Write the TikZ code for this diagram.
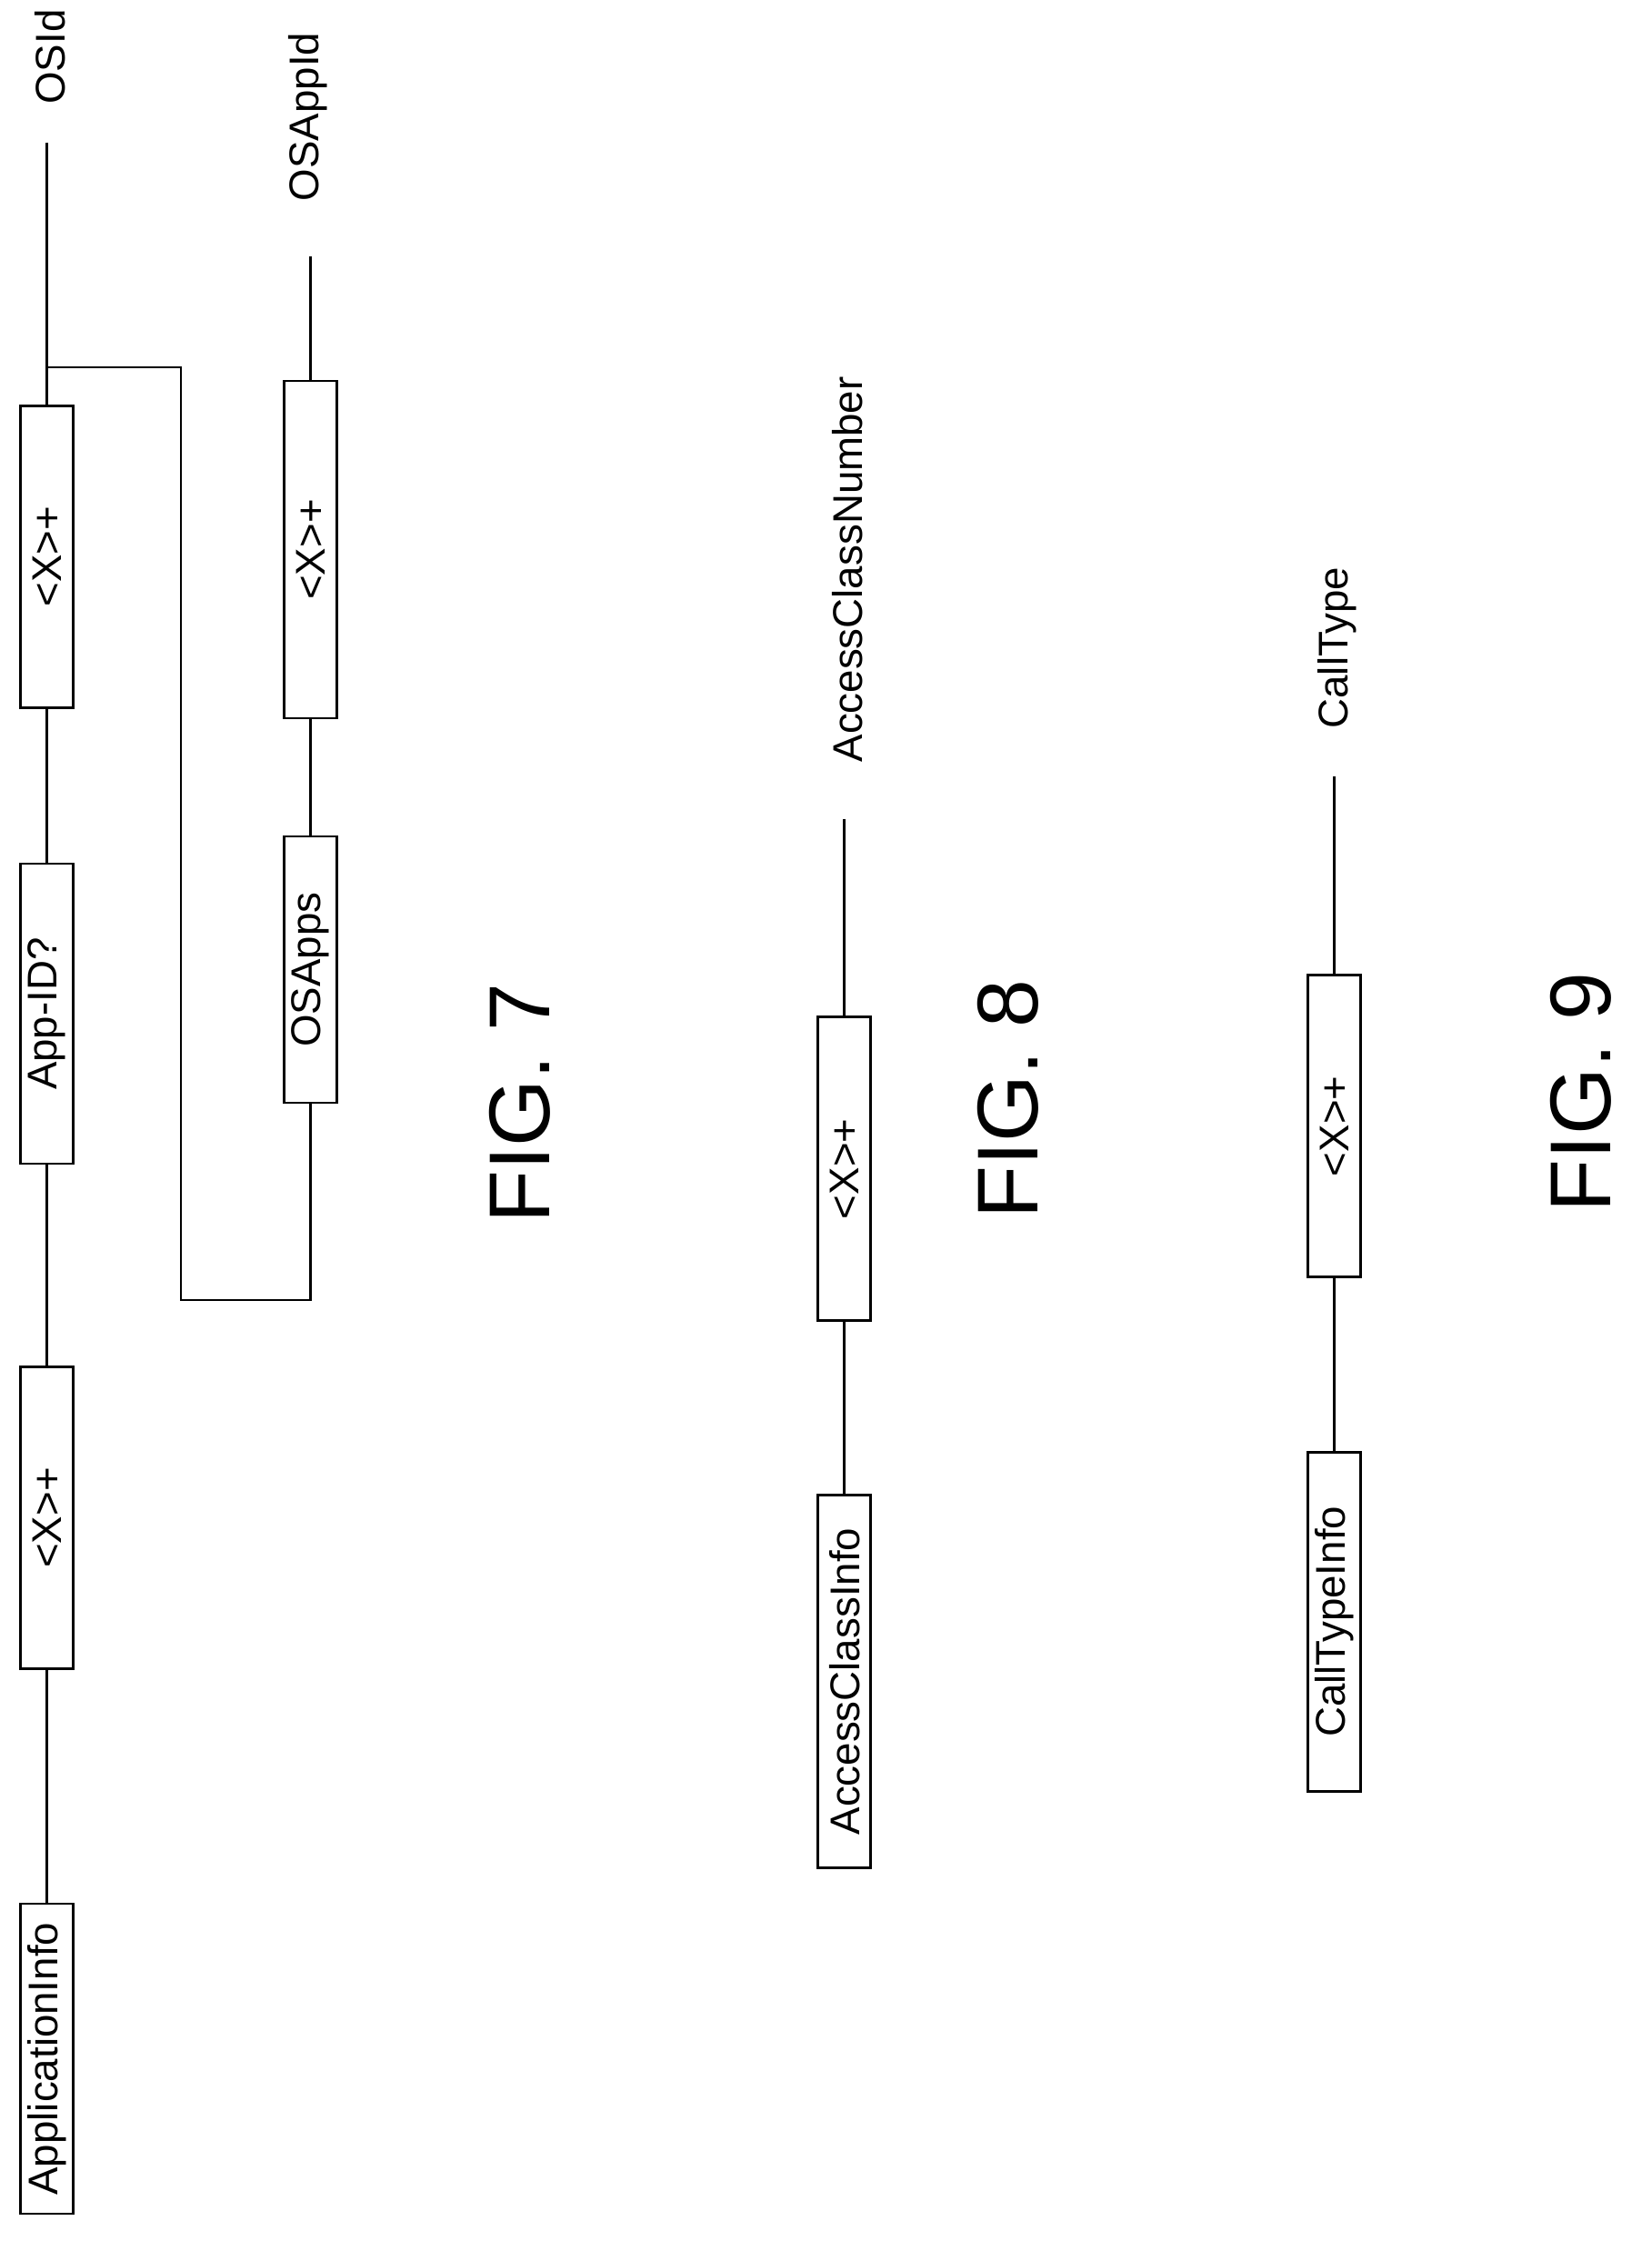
\documentclass[tikz,border=0pt]{standalone}
\usepackage{fontspec}
\setmainfont{Liberation Sans}
\tikzset{every picture/.style={line width=0.75pt}}
\tikzset{
  elembox/.style={draw,rotate=90,minimum height=5.8mm,inner sep=0pt,font=\fontsize{13}{15}\selectfont},
  elemtext/.style={rotate=90,inner sep=0pt,font=\fontsize{13}{15}\selectfont},
  figtext/.style={rotate=90,inner sep=0pt,font=\fontsize{27}{30}\selectfont}
}
\begin{document}
\begin{tikzpicture}[x=0.1566mm,y=-0.1566mm]
\useasboundingbox (0,0) rectangle (1160,1581);

% FIG. 7
\node [elembox,minimum width=33.2mm] (xb) at (33,391) {<X>+};
\node [elembox,minimum width=33.0mm] (appid) at (33,712) {App-ID?};
\node [elembox,minimum width=33.2mm] (xa) at (33,1066) {<X>+};
\node [elembox,minimum width=34.1mm] (appinfo) at (33,1446) {ApplicationInfo};
\node [elemtext] (osid) at (35,40) {OSId};
\coordinate (osidend) at (33,100);
\coordinate (fork) at (33,258);
\draw (osidend) -- (xb.east);
\draw (xb.west) -- (appid.east);
\draw (appid.west) -- (xa.east);
\draw (xa.west) -- (appinfo.east);

\node [elembox,minimum width=37.1mm] (xc) at (218,386) {<X>+};
\node [elembox,minimum width=29.3mm] (osapps) at (218,681) {OSApps};
\node [elemtext] (osappid) at (216,82) {OSAppId};
\coordinate (osappidend) at (218,180);
\draw (osappidend) -- (xc.east);
\draw (xc.west) -- (osapps.east);
\draw (fork) -- (127,258) -- (127,913) -- (218,913) -- (osapps.west);
\node [figtext] (fig7) at (365,775) {FIG. 7};

% FIG. 8
\node [elembox,minimum width=33.4mm] (xd) at (593,821) {<X>+};
\node [elembox,minimum width=41.0mm] (acinfo) at (593,1181) {AccessClassInfo};
\node [elemtext] (acnum) at (595,400) {AccessClassNumber};
\coordinate (acnumend) at (593,575);
\draw (acnumend) -- (xd.east);
\draw (xd.west) -- (acinfo.east);
\node [figtext] (fig8) at (708,772) {FIG. 8};

% FIG. 9
\node [elembox,minimum width=33.2mm] (xe) at (937,791) {<X>+};
\node [elembox,minimum width=37.3mm] (ctinfo) at (937,1139) {CallTypeInfo};
\node [elemtext] (calltype) at (939,455) {CallType};
\coordinate (calltypeend) at (937,545);
\draw (calltypeend) -- (xe.east);
\draw (xe.west) -- (ctinfo.east);
\node [figtext] (fig9) at (1110,767) {FIG. 9};

\end{tikzpicture}
\end{document}
